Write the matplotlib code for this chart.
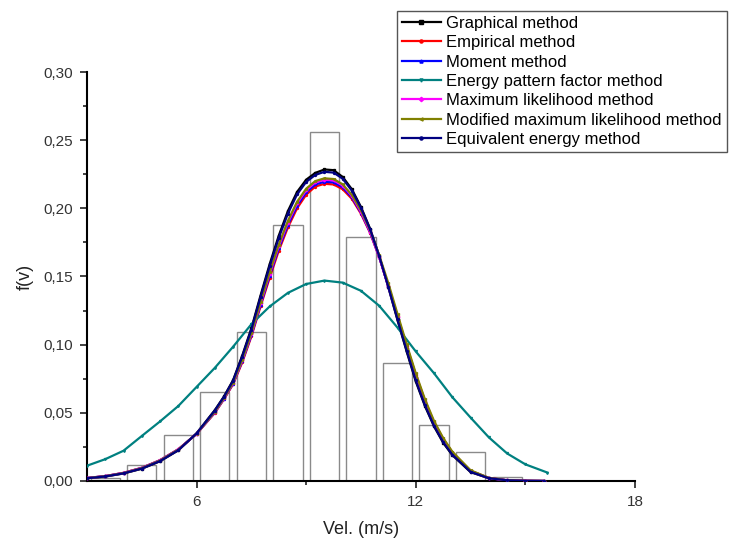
import matplotlib
matplotlib.use('Agg')
import matplotlib.pyplot as plt
from matplotlib.ticker import FixedLocator, MultipleLocator, FuncFormatter

plt.rcParams['font.family'] = ['Liberation Sans', 'DejaVu Sans']

# 観測データのヒストグラム (m/s, 相対頻度)
bin_centers = [3.5, 4.5, 5.5, 6.5, 7.5, 8.5, 9.5, 10.5, 11.5, 12.5, 13.5, 14.5]
bin_heights = [0.0025, 0.0117, 0.0337, 0.0655, 0.1095, 0.1877, 0.2560, 0.1787,
               0.0868, 0.0408, 0.0210, 0.0030]

# 各推定法の分布曲線
v_fit = [3.0, 3.5, 4.0, 4.5, 5.0, 5.5, 6.0, 6.5, 6.75, 7.0, 7.25, 7.5, 7.75,
         8.0, 8.25, 8.5, 8.75, 9.0, 9.25, 9.5, 9.75, 10.0, 10.25, 10.5, 10.75,
         11.0, 11.25, 11.5, 11.75, 12.0, 12.25, 12.5, 12.75, 13.0, 13.5, 14.0,
         14.5, 15.0, 15.5]

graphical = [0.0020, 0.0033, 0.0055, 0.0090, 0.0145, 0.0225, 0.0350, 0.0520,
             0.0620, 0.0740, 0.0920, 0.1120, 0.1360, 0.1590, 0.1800, 0.1980,
             0.2120, 0.2210, 0.2260, 0.2285, 0.2280, 0.2230, 0.2140, 0.2010,
             0.1850, 0.1650, 0.1420, 0.1180, 0.0950, 0.0730, 0.0550, 0.0400,
             0.0280, 0.0190, 0.0065, 0.0020, 0.0005, 0.0001, 0.0000]
empirical = [0.0022, 0.0036, 0.0060, 0.0097, 0.0153, 0.0233, 0.0345, 0.0500,
             0.0600, 0.0710, 0.0870, 0.1060, 0.1280, 0.1490, 0.1690, 0.1860,
             0.2000, 0.2100, 0.2160, 0.2180, 0.2175, 0.2140, 0.2070, 0.1960,
             0.1820, 0.1640, 0.1430, 0.1210, 0.0990, 0.0780, 0.0590, 0.0430,
             0.0310, 0.0210, 0.0075, 0.0022, 0.0005, 0.0001, 0.0000]
moment = [0.0022, 0.0036, 0.0059, 0.0096, 0.0152, 0.0232, 0.0346, 0.0503,
          0.0603, 0.0715, 0.0878, 0.1069, 0.1292, 0.1505, 0.1707, 0.1878,
          0.2018, 0.2117, 0.2175, 0.2195, 0.2190, 0.2154, 0.2081, 0.1968,
          0.1825, 0.1642, 0.1429, 0.1206, 0.0984, 0.0773, 0.0584, 0.0426,
          0.0306, 0.0207, 0.0074, 0.0022, 0.0005, 0.0001, 0.0000]
energy_pattern_v = [3.0, 3.5, 4.0, 4.5, 5.0, 5.5, 6.0, 6.5, 7.0, 7.5, 8.0, 8.5,
                    9.0, 9.5, 10.0, 10.5, 11.0, 11.5, 12.0, 12.5, 13.0, 13.5,
                    14.0, 14.5, 15.0, 15.6]
energy_pattern = [0.0112, 0.0160, 0.0222, 0.0330, 0.0437, 0.0550, 0.0690,
                  0.0830, 0.0985, 0.1150, 0.1280, 0.1380, 0.1445, 0.1470,
                  0.1455, 0.1395, 0.1285, 0.1125, 0.0950, 0.0790, 0.0615,
                  0.0465, 0.0320, 0.0202, 0.0122, 0.0062]
max_likelihood = [0.0021, 0.0035, 0.0059, 0.0095, 0.0151, 0.0231, 0.0347,
                  0.0506, 0.0606, 0.0719, 0.0885, 0.1078, 0.1304, 0.1520,
                  0.1723, 0.1896, 0.2036, 0.2133, 0.2190, 0.2210, 0.2205,
                  0.2167, 0.2091, 0.1975, 0.1829, 0.1643, 0.1427, 0.1201,
                  0.0978, 0.0765, 0.0578, 0.0421, 0.0301, 0.0204, 0.0072,
                  0.0021, 0.0005, 0.0001, 0.0000]
mod_max_likelihood = [0.0021, 0.0035, 0.0058, 0.0094, 0.0150, 0.0230, 0.0347,
                      0.0508, 0.0608, 0.0722, 0.0890, 0.1084, 0.1312, 0.1530,
                      0.1734, 0.1908, 0.2048, 0.2144, 0.2200, 0.2220, 0.2215,
                      0.2176, 0.2098, 0.1985, 0.1840, 0.1655, 0.1450, 0.1225,
                      0.1003, 0.0790, 0.0600, 0.0440, 0.0315, 0.0215, 0.0078,
                      0.0023, 0.0005, 0.0001, 0.0000]
equiv_energy = [0.0020, 0.0033, 0.0056, 0.0091, 0.0146, 0.0226, 0.0349, 0.0517,
                0.0617, 0.0736, 0.0913, 0.1111, 0.1348, 0.1575, 0.1784, 0.1962,
                0.2102, 0.2194, 0.2245, 0.2268, 0.2262, 0.2217, 0.2130, 0.2003,
                0.1846, 0.1649, 0.1422, 0.1185, 0.0957, 0.0738, 0.0556, 0.0405,
                0.0285, 0.0193, 0.0067, 0.0020, 0.0005, 0.0001, 0.0000]

series = [
    ('Graphical method', v_fit, graphical, '#000000', 's'),
    ('Empirical method', v_fit, empirical, '#ff0000', 'o'),
    ('Moment method', v_fit, moment, '#0000ff', '^'),
    ('Energy pattern factor method', energy_pattern_v, energy_pattern, '#008080', 'v'),
    ('Maximum likelihood method', v_fit, max_likelihood, '#ff00ff', 'D'),
    ('Modified maximum likelihood method', v_fit, mod_max_likelihood, '#808000', '<'),
    ('Equivalent energy method', v_fit, equiv_energy, '#000080', 'o'),
]

fig = plt.figure(figsize=(7.34, 5.43), dpi=100)
ax = fig.add_axes([0.1185, 0.1142, 0.7466, 0.7532])

ax.bar(bin_centers, bin_heights, width=0.8, facecolor='white',
       edgecolor='#8a8a8a', linewidth=1.0, zorder=1)

for label, xs, ys, color, marker in series:
    ax.plot(xs, ys, color=color, linewidth=1.6, marker=marker, markersize=1.4,
            label=label, zorder=3)

ax.set_xlim(3, 18)
ax.set_ylim(0, 0.30)

ax.spines['top'].set_visible(False)
ax.spines['right'].set_visible(False)
for side in ['left', 'bottom']:
    ax.spines[side].set_linewidth(1.5)

ax.xaxis.set_major_locator(FixedLocator([6, 12, 18]))
ax.xaxis.set_minor_locator(FixedLocator([9, 15]))
ax.yaxis.set_major_locator(MultipleLocator(0.05))
ax.yaxis.set_minor_locator(MultipleLocator(0.025))
ax.yaxis.set_major_formatter(FuncFormatter(lambda v, p: f'{v:.2f}'.replace('.', ',')))
ax.tick_params(which='major', direction='out', length=5, width=1.3,
               labelsize=11, pad=5, colors='#333333', labelcolor='#333333')
ax.tick_params(which='minor', direction='out', length=3, width=1.3, colors='#333333')

ax.set_xlabel('Vel. (m/s)', fontsize=13, labelpad=9, color='#222222')
ax.set_ylabel('f(v)', fontsize=13, labelpad=7, color='#222222')

leg = ax.legend(loc='upper right', bbox_to_anchor=(727 / 734, 1 - 11 / 543),
                bbox_transform=fig.transFigure, fontsize=12, numpoints=1,
                handlelength=2.3, handletextpad=0.36, borderpad=0.3,
                labelspacing=0.26, borderaxespad=0, fancybox=False,
                framealpha=1, markerscale=1.6)
leg.get_frame().set_edgecolor('#555555')
leg.get_frame().set_linewidth(1.0)

fig.savefig('out.png', dpi=100)
